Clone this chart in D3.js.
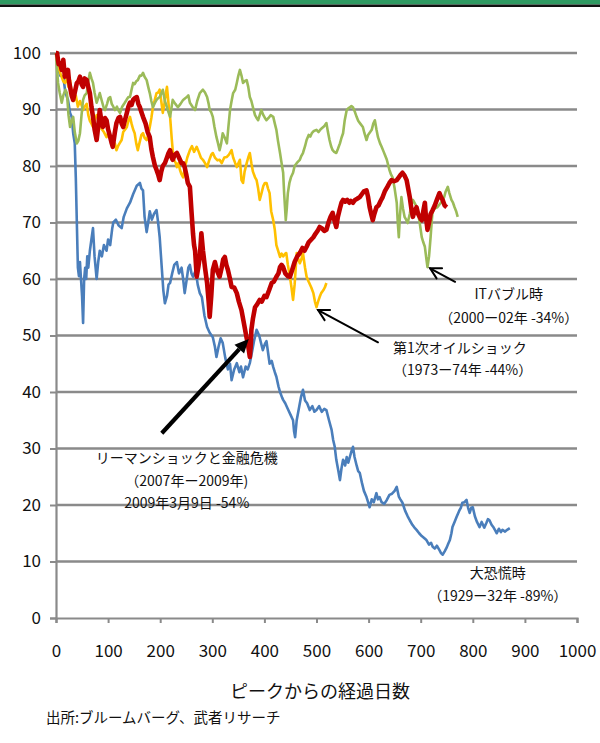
<!DOCTYPE html>
<html><head><meta charset="utf-8">
<script src="https://cdn.jsdelivr.net/npm/d3@7"></script>
<style>
html,body{margin:0;padding:0;background:#fff;}
svg{display:block;font-family:"Noto Sans CJK JP","Noto Sans",sans-serif;}
</style></head>
<body><svg id="chart" width="600" height="743"></svg>
<script>
// ---- data ----
const yTicks = [0,10,20,30,40,50,60,70,80,90,100];
const xTicks = [0,100,200,300,400,500,600,700,800,900,1000];
const xTitle = "ピークからの経過日数";
const sourceText = "出所:ブルームバーグ、武者リサーチ";

// 大恐慌時 (1929-32)
const depression = [[0,100],[3,98],[8,96],[14,95.8],[18,93],[23,91.7],[27,89.4],[30,88.7],[33,85.8],[36,84],[38,78],[40,70],[42,62],[44,60.5],[46,63],[48,60],[50,57],[52,52.2],[54,60],[56,62],[58,60],[60,64],[62,62],[65,65],[68,67],[71,69],[74,64],[78,60],[81,63],[84,65],[88,64],[92,66],[97,65],[100,67],[104,66],[108,69],[110,70],[115,70.5],[120,69.5],[126,69],[130,71],[136,72.5],[142,73.5],[148,75],[155,76.5],[161,77],[164,76],[167,75.7],[170,71],[174,68.3],[177,70],[180,72],[184,70.5],[188,71.5],[193,72.2],[196,70],[199,67.4],[203,62],[206,58],[209,55.7],[213,57],[216,59],[219,59.3],[223,61],[227,62.5],[232,63],[236,61],[241,62],[244,60],[247,57.5],[251,60],[254,62],[257,62.5],[260,61],[263,60.4],[268,61.5],[272,59],[276,57.5],[280,56.8],[285,53.5],[290,51.5],[295,50.5],[301,49.7],[305,48],[308,46.2],[312,48],[316,49.5],[320,48.7],[325,46],[330,44],[334,45],[337,42.1],[342,44],[347,45.1],[352,43.5],[355,44.5],[359,42.6],[364,44.5],[368,44],[372,45.1],[376,47],[380,49],[385,51],[390,50],[394,48.5],[397,47.4],[401,48.5],[404,49],[407,47],[410,45],[414,45.5],[417,44.4],[420,43.5],[423,42.7],[427,41],[430,40],[434,39],[436,38.6],[440,38],[445,37],[450,36],[455,35],[457,33],[459,32],[462,35],[466,37],[470,39],[474,40.4],[478,38.5],[482,38],[487,36.8],[492,37.5],[496,36.5],[500,36.8],[505,37.5],[510,36.5],[515,37],[519,36.8],[524,35],[529,33.3],[532,31.5],[535,30.3],[538,28],[542,26],[545,24.4],[548,26.5],[551,28],[555,27],[558,28.5],[561,27.5],[564,28.5],[567,29.5],[570,30.3],[573,28.5],[577,27],[580,26],[583,25.7],[587,24],[591,22.5],[596,21.4],[599,20.5],[602,19.6],[606,21],[610,20.5],[615,22.1],[618,21],[621,21.4],[625,20.5],[630,20.2],[635,20.9],[640,21.8],[645,22],[650,22.5],[654,23.2],[658,21.5],[661,21],[665,20.4],[670,19],[675,18],[679,17.3],[684,16.5],[688,16],[692,15.6],[697,15],[702,14.5],[706,14.2],[711,13.8],[716,13],[720,13.3],[723,12.6],[727,12.3],[731,12.8],[736,12],[739,11.5],[742,11.2],[746,11.8],[750,12.5],[753,13.2],[756,13.8],[759,15],[761,16.1],[765,17],[769,17.9],[774,19],[777,19.5],[780,20.4],[784,20.5],[788,20.9],[791,19.5],[794,18.6],[797,19.5],[800,19.6],[804,18],[808,17],[813,16.1],[817,17],[822,16],[826,16.8],[829,17.5],[832,17.3],[836,16.5],[840,16],[843,15.5],[846,15],[850,15.8],[854,15.2],[857,15.6],[862,15.3],[866,15.6],[871,15.9]];

// 第1次オイルショック (1973-74)
const oilShock = [[0,100],[3,98],[6,97],[10,96],[14,95],[17,94.7],[21,95.5],[24,94],[27,95.2],[30,93],[34,91.5],[38,92.5],[42,90.5],[46,91.5],[50,90.5],[52,89.9],[55,90.5],[59,91],[62,89],[65,88],[68,87.5],[71,86.9],[74,88],[78,89],[81,88.5],[84,87.6],[88,86.5],[92,86],[97,85.1],[101,86],[104,85],[107,84],[110,83.5],[113,84],[116,82.8],[119,83.5],[122,84],[126,84.6],[129,86],[133,86.5],[136,86.9],[139,88],[142,88.7],[145,87.5],[148,86.5],[151,85.8],[154,84],[157,82.8],[160,84],[164,85.5],[167,85.8],[170,85],[174,84.6],[177,85.5],[180,86.9],[183,88.5],[186,90.4],[189,91.5],[193,92.9],[196,93],[199,93.5],[202,91.5],[205,89.4],[208,91],[211,93],[213,94],[216,91],[219,88.7],[222,85],[224,82.8],[227,81],[230,80.5],[232,79.8],[235,80.5],[238,79.3],[241,78.5],[244,78],[248,80],[252,81.5],[257,82.8],[261,83.5],[265,82.5],[270,83.4],[274,82.5],[278,81.5],[282,81.1],[286,80.5],[290,79.8],[294,81],[298,82],[301,82.3],[305,81.5],[310,81],[314,81.1],[318,80.5],[323,81.5],[328,81.6],[332,82],[337,82.8],[340,81.5],[344,80.5],[347,79.8],[350,80.5],[353,81.1],[356,77.5],[359,77],[362,79],[366,80.5],[369,81.5],[372,82.3],[375,80.5],[378,79],[382,78],[385,77.5],[388,76],[391,74],[394,75],[398,76.5],[401,77],[404,77],[407,76],[410,75.2],[413,72],[417,70.4],[420,68.7],[423,66],[426,65.1],[430,63.9],[433,64.5],[436,64],[440,64.5],[442,64.6],[445,62.5],[449,60.4],[452,58.5],[455,56.3],[458,59],[462,64.6],[465,63.5],[468,62.8],[471,63.5],[474,64.6],[478,62],[481,60.4],[485,59.5],[490,58.5],[494,57.5],[497,56],[500,55],[503,56],[506,56.8],[509,57.5],[513,58],[516,58.5],[519,59.3]];

// ITバブル時 (2000-02)
const itBubble = [[0,100],[2,97],[4,94.7],[7,93],[11,91.2],[14,92.5],[18,93.5],[21,92.9],[24,89],[27,86.9],[30,88],[33,88.7],[36,86],[40,84],[43,84.5],[46,85.8],[49,89],[52,91.7],[55,92.5],[59,92.9],[62,95],[65,96.5],[68,95.5],[71,94.7],[74,93],[78,91.2],[81,92],[84,92.9],[88,91.5],[91,90.5],[94,89.9],[98,91],[101,92],[104,92.2],[107,91],[110,90.5],[113,89.9],[117,90.5],[120,89.8],[123,89.4],[127,90.5],[132,91.2],[136,91.8],[139,92.2],[142,92.2],[145,93.5],[148,94.7],[151,94.5],[154,95],[157,95.2],[161,96],[164,96],[167,96.5],[170,95.8],[174,95.2],[177,94],[180,92.9],[183,91.5],[186,90.4],[190,91.2],[193,91.7],[196,92],[199,92.2],[202,92.8],[205,93.5],[209,91.5],[213,90.4],[216,89.5],[219,88.7],[222,90.5],[224,91.7],[229,91],[234,90.4],[239,91],[244,91.7],[248,92],[251,92.2],[254,92.5],[257,91.2],[262,90.5],[267,89.9],[271,91.5],[276,92.9],[279,93.2],[282,93.5],[286,93],[290,92.2],[293,91],[295,89.9],[298,89.5],[301,88.7],[304,87],[308,85.1],[311,84],[314,82.8],[317,84],[320,85.8],[324,85],[328,84],[331,87],[334,89.9],[337,91.5],[340,92.9],[344,93.5],[347,94.7],[350,96],[353,97],[356,96],[359,94.7],[362,95],[366,95.2],[369,94],[372,92.2],[375,91.5],[378,90.4],[382,89],[385,88.5],[388,88.1],[391,89],[394,89.9],[398,89],[401,88.5],[404,88.1],[408,88.5],[412,89],[417,88.7],[420,87.5],[423,86.4],[426,84.5],[430,82.3],[433,80.5],[436,78.8],[438,75],[440,72],[441,70.4],[443,72.5],[445,75.2],[448,77],[451,78],[455,78.8],[458,80],[462,80.5],[465,80.8],[468,81.1],[471,81.8],[474,82.3],[478,83.5],[481,84.6],[485,85.5],[488,85.2],[491,85.8],[495,86.2],[500,86.4],[504,86],[508,86.5],[513,86.9],[516,87.2],[519,87.6],[522,86],[525,84.6],[528,83.5],[531,82.8],[534,82.5],[538,82.3],[541,83],[545,84],[548,85],[551,85.8],[554,88],[558,89.9],[561,90.2],[564,90.4],[567,90.6],[570,90.4],[574,89.5],[577,88.7],[580,88],[584,87.5],[589,86.9],[592,85.8],[596,84.6],[599,85.5],[603,86],[606,86.4],[609,87.5],[612,88.1],[615,86.5],[618,85.1],[622,84],[625,83.4],[629,82.5],[632,81.8],[635,81.1],[638,80],[640,79.3],[643,78.5],[646,78],[650,76],[654,73.5],[656,70],[658,67.4],[660,71],[663,74.5],[666,72.5],[669,71],[672,70.5],[675,69.9],[679,71.5],[682,73],[685,74],[688,73.5],[691,73],[694,72.2],[698,70],[702,67.4],[705,66.5],[708,65.7],[711,63.5],[713,62.1],[716,64],[719,67.4],[721,70],[723,72.2],[727,72.5],[732,72.7],[736,73.2],[739,73.5],[742,74],[745,74.5],[748,75.5],[752,76.3],[755,75.2],[759,74],[762,73.5],[765,72.7],[768,72],[771,71]];

// リーマンショックと金融危機 (2007-09)
const lehman = [[0,100],[2,100],[5,98],[8,98.2],[11,97],[14,98.8],[17,95.8],[20,96.5],[23,97],[25,95],[27,94],[30,92.5],[33,91.7],[36,93],[40,94.7],[43,95],[46,95.8],[49,94.5],[52,94],[55,95.5],[59,95.2],[62,94],[65,92.9],[68,90.5],[71,88.7],[74,86.5],[78,84.6],[81,87],[84,89.9],[87,88],[90,86.9],[94,88.5],[97,88.1],[100,86.5],[104,85.1],[107,84],[109,83.4],[113,86],[116,87.6],[120,88.5],[123,88.7],[126,87.5],[129,86.9],[132,88],[136,89.4],[139,90.5],[142,91.2],[145,90.8],[148,91.7],[151,92],[155,92.2],[158,91],[161,90.4],[164,89.5],[167,88.7],[172,87.5],[176,86],[180,85.1],[183,83],[186,81.6],[190,80],[193,79.3],[196,78.5],[199,77.5],[202,79],[205,80],[209,80.5],[213,81.5],[216,82.3],[219,82.8],[222,81.5],[224,81.1],[228,82],[232,82.3],[236,81.5],[241,80.5],[244,80.5],[247,79.8],[250,78.5],[253,77],[257,76.3],[260,72],[263,68],[265,66],[267,65],[269,62],[270,60.4],[273,62],[276,63.9],[279,68.1],[282,65.1],[286,62],[290,59.3],[293,56],[295,53.3],[298,57],[301,61.6],[305,63],[309,61.5],[314,60.4],[318,62],[321,63.5],[324,63.9],[327,62.5],[330,61.6],[334,60],[337,58.6],[342,58.5],[347,57.5],[351,56],[356,54.5],[360,52.5],[363,51],[366,49.5],[368,48.7],[370,47.5],[372,46.2],[374,48.5],[375,51],[378,53],[382,55],[386,55.5],[391,56.3],[395,56],[400,57],[404,56.8],[409,58],[414,59.3],[418,59.5],[423,60.4],[427,61],[430,62.1],[433,62.5],[436,62.1],[440,61],[445,60.5],[449,60.4],[453,61.5],[458,63],[463,64],[468,64.6],[473,65.5],[477,65],[481,65.7],[485,66.5],[490,67],[494,67.4],[498,68],[502,68.5],[506,69.2],[510,69],[515,68.5],[519,68.7],[523,70],[527,71],[531,71.7],[534,70.5],[538,69.2],[541,71],[545,72.5],[548,73.5],[551,74],[555,73.7],[559,74],[563,73.5],[566,73.8],[570,73.5],[574,74],[578,74.2],[583,74.5],[587,75],[591,75.5],[596,75.7],[599,74.5],[602,72.7],[605,71.5],[608,70.4],[611,71.5],[615,72.7],[619,73],[623,73.8],[627,74.5],[631,75.5],[636,76.3],[640,77],[644,77.5],[649,77.3],[654,77.5],[658,78],[662,78.5],[665,78.8],[669,78.3],[673,77.5],[676,76],[679,74.5],[682,72.5],[685,71],[688,72],[692,72.7],[695,71.5],[699,70.8],[702,70.4],[705,72],[708,73.5],[710,71],[713,68.7],[716,70],[719,71.5],[723,72.2],[727,73],[731,74],[736,75.2],[739,74.5],[742,74],[746,73],[750,72.7]];

const seriesNames = ["大恐慌時","第1次オイルショック","ITバブル時","リーマンショックと金融危機"];

// annotations (data coordinates: day, index value)
const labelLehman = ["リーマンショックと金融危機","（2007年ー2009年)","2009年3月9日  -54%"];
const labelOil = ["第1次オイルショック","（1973ー74年 -44%）"];
const labelIT = ["ITバブル時","（2000ー02年 -34%）"];
const labelDep = ["大恐慌時","（1929ー32年 -89%）"];

// ---- drawing ----
const svg = d3.select("#chart");
const W = 600, H = 743;
const x = d3.scaleLinear().domain([0,1000]).range([56,577]);
const y = d3.scaleLinear().domain([0,100]).range([618,53]);

// header bars
svg.append("rect").attr("x",0).attr("y",0).attr("width",W).attr("height",4.5).attr("fill","#2f9a62");
svg.append("rect").attr("x",0).attr("y",4.5).attr("width",W).attr("height",2.5).attr("fill","#111");

// gridlines
svg.append("g").selectAll("line").data(yTicks.filter(d=>d>0)).join("line")
  .attr("x1",x(0)).attr("x2",x(1000)).attr("y1",d=>y(d)).attr("y2",d=>y(d))
  .attr("stroke","#8a8a8a").attr("stroke-width",2.6);

// y axis
const yAxis = svg.append("g").attr("transform",`translate(${x(0)},0)`)
  .call(d3.axisLeft(y).tickValues(yTicks).tickSize(6).tickPadding(9));
yAxis.select(".domain").attr("stroke","#8a8a8a").attr("stroke-width",2.2);
yAxis.selectAll(".tick line").attr("stroke","#8a8a8a").attr("stroke-width",2);
yAxis.selectAll(".tick text").attr("font-size",17).attr("fill","#111").attr("font-family",'"Noto Sans CJK JP",sans-serif');

// x axis
const xAxis = svg.append("g").attr("transform",`translate(0,${y(0)})`)
  .call(d3.axisBottom(x).tickValues(xTicks).tickSize(5).tickPadding(22).tickFormat(d3.format("d")));
xAxis.select(".domain").attr("stroke","#8a8a8a").attr("stroke-width",2.2);
xAxis.selectAll(".tick line").attr("stroke","#8a8a8a").attr("stroke-width",2);
xAxis.selectAll(".tick text").attr("font-size",17).attr("fill","#111").attr("font-family",'"Noto Sans CJK JP",sans-serif');

// lines
const line = d3.line().x(d=>x(d[0])).y(d=>y(d[1]));
const series = [
  {data: depression, color:"#4a7ebb", w:2.6},
  {data: oilShock, color:"#ffc000", w:2.6},
  {data: itBubble, color:"#9bbb59", w:2.6},
  {data: lehman, color:"#c00000", w:4.6}
];
svg.append("g").selectAll("path").data(series).join("path")
  .attr("d",d=>line(d.data)).attr("fill","none")
  .attr("stroke",d=>d.color).attr("stroke-width",d=>d.w)
  .attr("stroke-linejoin","round");

// arrows
function openArrow(x1,y1,x2,y2,w){
  const g = svg.append("g").attr("stroke","#000").attr("stroke-width",w).attr("fill","none").attr("stroke-linecap","round");
  g.append("line").attr("x1",x1).attr("y1",y1).attr("x2",x2).attr("y2",y2);
  const a = Math.atan2(y1-y2,x1-x2), L=12, s=0.5;
  g.append("path").attr("d",`M${x2+L*Math.cos(a+s)},${y2+L*Math.sin(a+s)}L${x2},${y2}L${x2+L*Math.cos(a-s)},${y2+L*Math.sin(a-s)}`);
}
function solidArrow(x1,y1,x2,y2,w){
  const a = Math.atan2(y2-y1,x2-x1), L=14, hw=6.5;
  const bx = x2-L*Math.cos(a), by = y2-L*Math.sin(a);
  svg.append("line").attr("x1",x1).attr("y1",y1).attr("x2",bx).attr("y2",by)
    .attr("stroke","#000").attr("stroke-width",w);
  svg.append("path").attr("fill","#000")
    .attr("d",`M${x2},${y2}L${bx+hw*Math.sin(a)},${by-hw*Math.cos(a)}L${bx-hw*Math.sin(a)},${by+hw*Math.cos(a)}Z`);
}
solidArrow(x(203),y(32.7),x(370),y(49.4),4.2);
openArrow(x(618),y(48.8),x(503),y(54.5),2);
openArrow(x(766),y(59.5),x(718),y(61.9),2);

// annotation text
function label(lines, cx, ys, anchor){
  const t = svg.append("g").attr("font-size",14).attr("fill","#111")
    .attr("text-anchor",anchor||"middle");
  lines.forEach((s,i)=>{
    t.append("text").attr("x",cx).attr("y",ys[i]).attr("dominant-baseline","central").text(s);
  });
}
label(labelLehman, x(251), [y(28.5),y(24.5),y(20.6)]);
label(labelOil, x(647), [y(48.0),y(44.1)], "start");
label(labelIT, x(869), [y(57.5),y(53.3)]);
label(labelDep, x(848), [y(8.1),y(4.1)]);

// axis title & source
svg.append("text").attr("x",320).attr("y",690).attr("text-anchor","middle")
  .attr("dominant-baseline","central").attr("font-size",18).attr("fill","#111").text(xTitle);
svg.append("text").attr("x",46).attr("y",716).attr("dominant-baseline","central")
  .attr("font-size",14.5).attr("fill","#111").text(sourceText);
</script></body></html>
